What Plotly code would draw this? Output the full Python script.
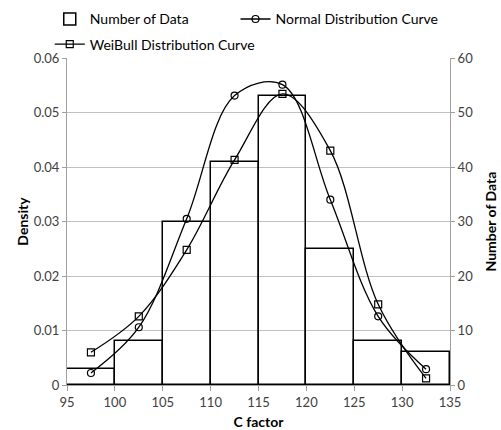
import plotly.graph_objects as go

bin_centers = [97.5, 102.5, 107.5, 112.5, 117.5, 122.5, 127.5, 132.5]
counts = [3, 8, 30, 41, 53, 25, 8, 6]
normal_density = [0.0022, 0.0106, 0.0305, 0.0531, 0.0551, 0.0340, 0.0126, 0.0029]
weibull_density = [0.0060, 0.0126, 0.0248, 0.0413, 0.0534, 0.0430, 0.0148, 0.0012]
x_ticks = [95, 100, 105, 110, 115, 120, 125, 130, 135]
density_ticks = [0, 0.01, 0.02, 0.03, 0.04, 0.05, 0.06]
density_labels = ["0", "0.01", "0.02", "0.03", "0.04", "0.05", "0.06"]

FONT = "Lato"
fig = go.Figure()
fig.add_trace(go.Bar(
    x=bin_centers, y=counts, width=5, name="Number of Data", yaxis="y2",
    legend="legend", legendgroup="a",
    marker=dict(color="rgba(0,0,0,0)", line=dict(color="black", width=1.5)),
))
fig.add_trace(go.Scatter(
    x=bin_centers, y=normal_density, name="Normal Distribution Curve",
    legend="legend2",
    mode="lines+markers", line=dict(color="black", width=1.3, shape="spline", smoothing=1),
    marker=dict(symbol="circle-open", size=7, color="black", line=dict(width=1.2)),
))
fig.add_trace(go.Scatter(
    x=bin_centers, y=weibull_density, name="WeiBull Distribution Curve",
    legend="legend", legendgroup="b",
    mode="lines+markers", line=dict(color="black", width=1.3, shape="spline", smoothing=1),
    marker=dict(symbol="square-open", size=7, color="black", line=dict(width=1.2)),
))

legend_font = dict(family=FONT, size=14, color="black")
fig.update_layout(
    width=501, height=430,
    margin=dict(l=67, r=51, t=58, b=45, autoexpand=False),
    paper_bgcolor="white", plot_bgcolor="white",
    font=dict(family=FONT, size=13, color="#404040"),
    bargap=0,
    legend=dict(orientation="v", x=-0.045, xanchor="left", y=1.167, yanchor="top",
                font=legend_font, itemwidth=30, tracegroupgap=4, traceorder="grouped",
                bgcolor="rgba(0,0,0,0)"),
    legend2=dict(orientation="v", x=0.440, xanchor="left", y=1.167, yanchor="top",
                 font=legend_font, itemwidth=30, bgcolor="rgba(0,0,0,0)"),
    xaxis=dict(range=[95, 135], tickvals=x_ticks, showgrid=False, zeroline=False,
               showline=True, linecolor="#a0a0a0", linewidth=1,
               ticks="outside", ticklen=5, tickcolor="#a0a0a0",
               title=dict(text="<b>C factor</b>", font=dict(size=14, color="black"), standoff=9)),
    yaxis=dict(range=[0, 0.06], tickvals=density_ticks, ticktext=density_labels,
               showgrid=True, gridcolor="#c0c0c0",
               zeroline=False, showline=True, linecolor="#a0a0a0", ticks="outside", ticklen=4,
               tickcolor="#a0a0a0",
               title=dict(text="<b>Density</b>", font=dict(size=14, color="black"), standoff=1)),
    yaxis2=dict(range=[0, 60], dtick=10, overlaying="y", side="right", showgrid=False,
                zeroline=False, showline=True, linecolor="#a0a0a0", ticks="outside", ticklen=4,
                tickcolor="#a0a0a0"),
    annotations=[dict(text="<b>Number of Data</b>", xref="paper", yref="paper", x=1, y=0.5,
                      xshift=40, xanchor="center", yanchor="middle", textangle=-90,
                      showarrow=False, font=dict(family=FONT, size=14, color="black"))],
)
fig.write_html("out.html", config={"displayModeBar": False},
               post_script="document.body.style.margin='0';")
